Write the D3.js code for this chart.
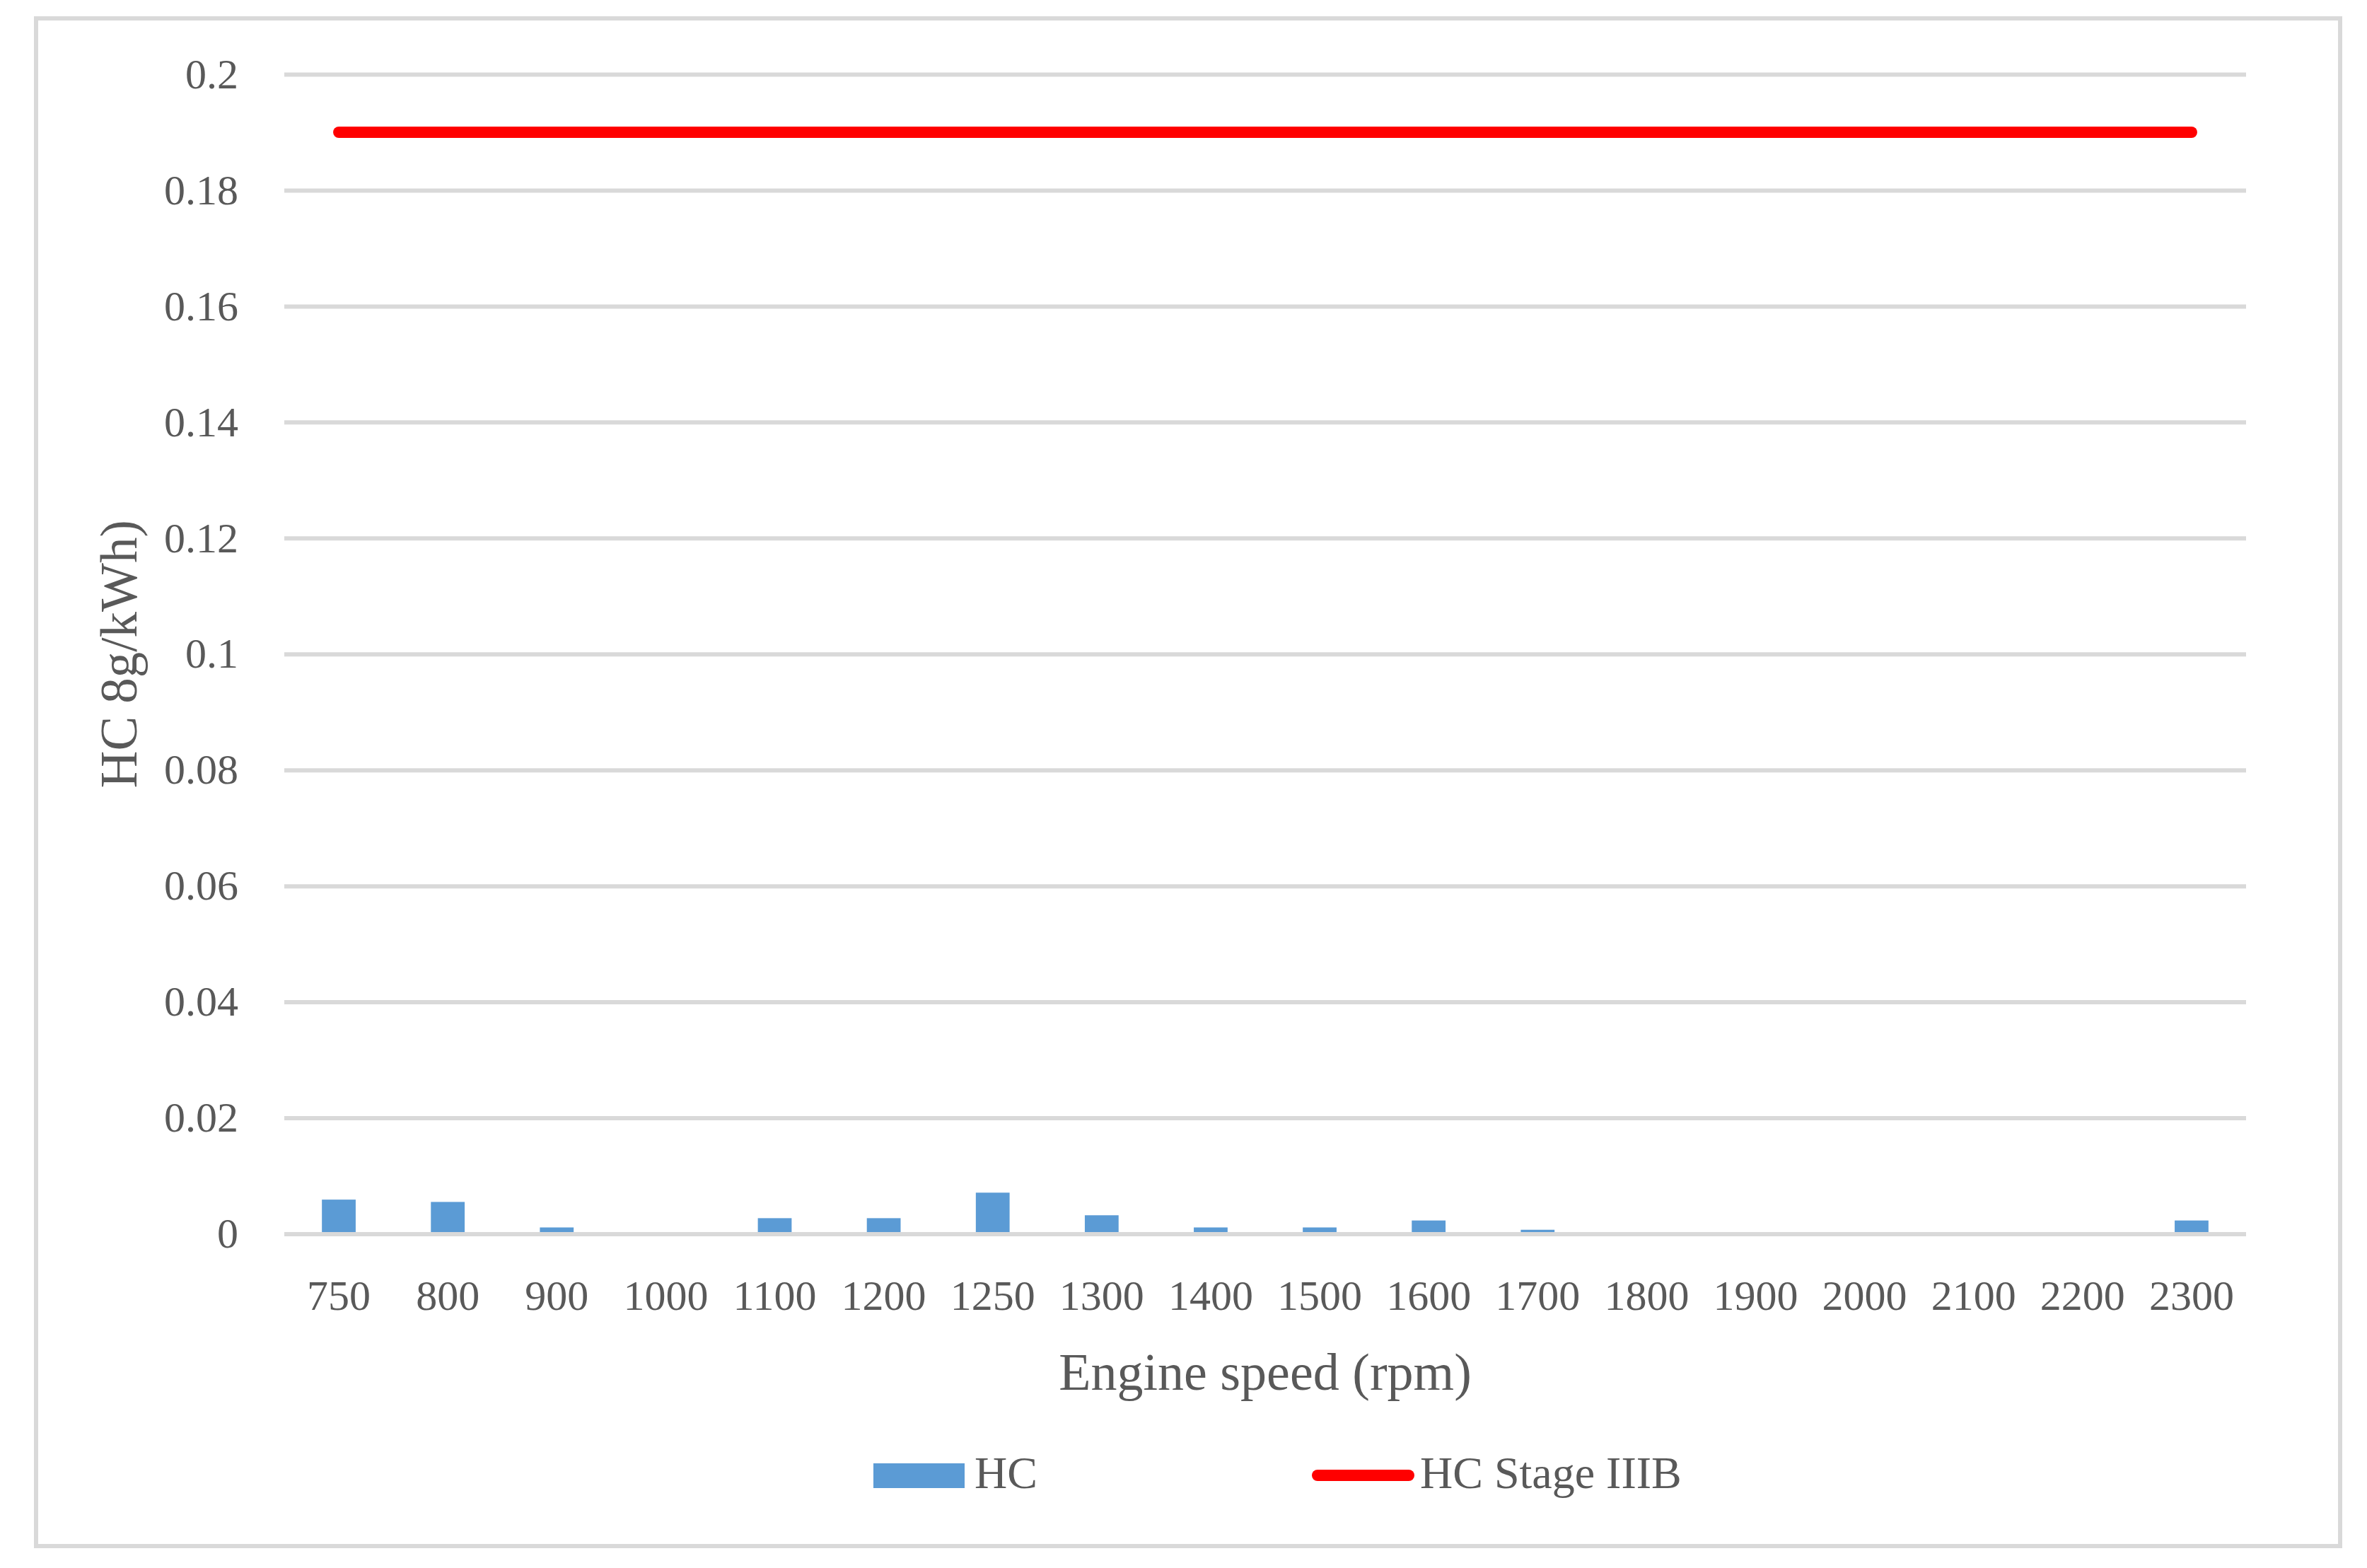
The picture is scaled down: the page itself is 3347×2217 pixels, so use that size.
<!DOCTYPE html>
<html>
<head>
<meta charset="utf-8">
<script src="https://cdn.jsdelivr.net/npm/d3@7"></script>
<style>
  body { margin: 0; background: #fff; }
  text { font-family: "Liberation Serif", "DejaVu Serif", serif; fill: #595959; }
</style>
</head>
<body>
<div id="chart"></div>
<script>
// engine speed categories (rpm)
const speeds = ["750", "800", "900", "1000", "1100", "1200", "1250", "1300", "1400",
                "1500", "1600", "1700", "1800", "1900", "2000", "2100", "2200", "2300"];
// HC emissions
const hcValues = [0.0059, 0.0055, 0.0011, 0, 0.0027, 0.0027, 0.0071, 0.0032, 0.0011,
                  0.0011, 0.0023, 0.0007, 0, 0, 0, 0, 0, 0.0023];
// Stage IIIB limit
const hcLimit = 0.19;
const yTicks = [0, 0.02, 0.04, 0.06, 0.08, 0.1, 0.12, 0.14, 0.16, 0.18, 0.2];
const yTickLabels = ["0", "0.02", "0.04", "0.06", "0.08", "0.1", "0.12", "0.14", "0.16", "0.18", "0.2"];

const width = 3347;
const height = 2217;
const margin = {top: 105, right: 171, bottom: 472, left: 402};
const grey = "#d9d9d9";

const svg = d3.select("#chart")
    .append("svg")
    .attr("width", width)
    .attr("height", height);

// outer frame
svg.append("rect")
    .attr("x", 51).attr("y", 26)
    .attr("width", 3258).attr("height", 2160)
    .attr("fill", "#fff")
    .attr("stroke", grey)
    .attr("stroke-width", 6);

const x = d3.scaleBand()
    .domain(speeds)
    .range([margin.left, width - margin.right])
    .padding(0);

const y = d3.scaleLinear()
    .domain([0, 0.2])
    .range([height - margin.bottom - 0.5 - 0, margin.top]);

// bars
const barW = x.bandwidth() * 0.31;
svg.append("g")
    .selectAll("rect")
    .data(hcValues)
    .join("rect")
    .attr("x", (d, i) => x(speeds[i]) + x.bandwidth() / 2 - barW / 2)
    .attr("y", d => y(d))
    .attr("width", barW)
    .attr("height", d => y(0) - y(d))
    .attr("fill", "#5b9bd5");

// y axis + gridlines
const yAxis = svg.append("g")
    .attr("transform", `translate(${margin.left},0)`)
    .call(d3.axisLeft(y)
        .tickValues(yTicks)
        .tickFormat((d, i) => yTickLabels[i])
        .tickSize(-(width - margin.left - margin.right))
        .tickPadding(65));
yAxis.select(".domain").remove();
yAxis.selectAll("line").attr("stroke", grey).attr("stroke-width", 6);
yAxis.selectAll("text")
    .attr("font-size", 60)
    .attr("font-family", "Liberation Serif")
    .attr("fill", "#595959");

// x axis labels
const xAxis = svg.append("g")
    .attr("transform", `translate(0,${y(0)})`)
    .call(d3.axisBottom(x).tickSize(0).tickPadding(65));
xAxis.select(".domain").remove();
xAxis.selectAll("text")
    .attr("font-size", 60)
    .attr("font-family", "Liberation Serif")
    .attr("fill", "#595959");

// limit line
const line = d3.line()
    .x(d => x(d) + x.bandwidth() / 2)
    .y(() => y(hcLimit));
svg.append("path")
    .datum([speeds[0], speeds[speeds.length - 1]])
    .attr("d", line)
    .attr("fill", "none")
    .attr("stroke", "#ff0000")
    .attr("stroke-width", 16)
    .attr("stroke-linecap", "round");

// axis titles
svg.append("text")
    .attr("x", (margin.left + width - margin.right) / 2)
    .attr("y", 1965)
    .attr("text-anchor", "middle")
    .attr("font-size", 74)
    .text("Engine speed (rpm)");

svg.append("text")
    .attr("transform", `translate(193,${(y(0) + y(0.2)) / 2}) rotate(-90)`)
    .attr("text-anchor", "middle")
    .attr("font-size", 73)
    .text("HC 8g/kWh)");

// legend
const legend = svg.append("g");
legend.append("rect")
    .attr("x", 1235).attr("y", 2069)
    .attr("width", 129).attr("height", 35)
    .attr("fill", "#5b9bd5");
legend.append("text")
    .attr("x", 1378).attr("y", 2104)
    .attr("font-size", 64)
    .text("HC");
legend.append("line")
    .attr("x1", 1863).attr("x2", 1992)
    .attr("y1", 2086).attr("y2", 2086)
    .attr("stroke", "#ff0000")
    .attr("stroke-width", 16)
    .attr("stroke-linecap", "round");
legend.append("text")
    .attr("x", 2008).attr("y", 2104)
    .attr("font-size", 64)
    .text("HC Stage IIIB");
</script>
</body>
</html>
